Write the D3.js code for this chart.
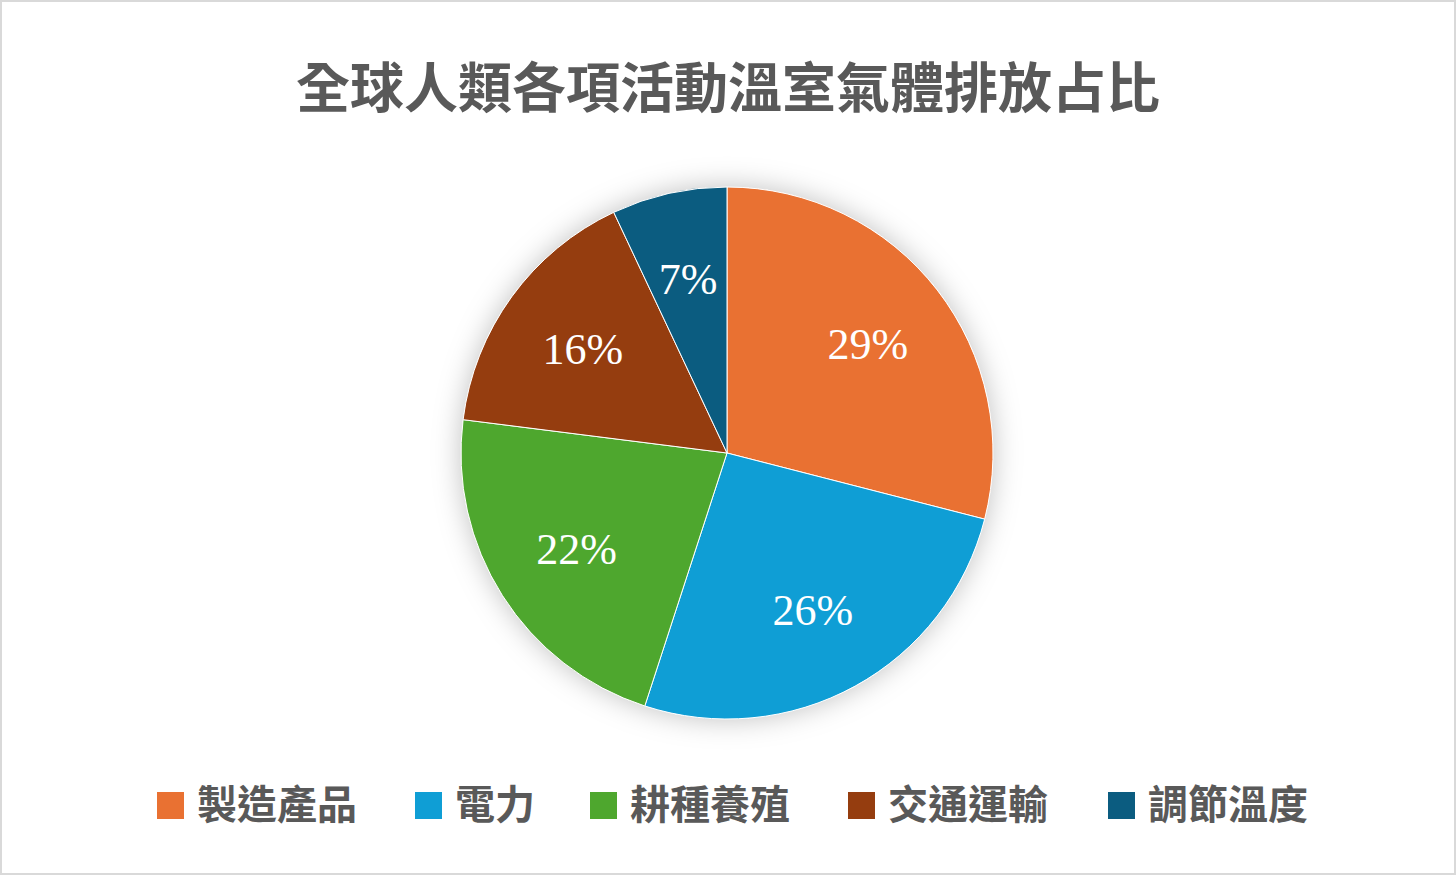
<!DOCTYPE html><html><head><meta charset="utf-8"><script src="https://cdn.jsdelivr.net/npm/d3@7"></script>
<style>body{margin:0;background:#fff}</style></head><body><svg id="c" width="1456" height="875"></svg>
<script>
const categories=["製造產品","電力","耕種養殖","交通運輸","調節溫度"];
const values=[29,26,22,16,7];
const colors=["#E97132","#0F9ED5","#4EA72E","#953D0F","#0B5C80"];
const title="全球人類各項活動溫室氣體排放占比";
const svg=d3.select("#c");
svg.append("rect").attr("x",1).attr("y",1).attr("width",1454).attr("height",873).attr("fill","#fff").attr("stroke","#d9d9d9").attr("stroke-width",2);
const defs=svg.append("defs");
const f=defs.append("filter").attr("id","sh").attr("x","-30%").attr("y","-30%").attr("width","160%").attr("height","160%");
f.append("feDropShadow").attr("dx",0).attr("dy",0).attr("stdDeviation",14).attr("flood-color","#000").attr("flood-opacity",0.25);
svg.append("text").attr("x",728).attr("y",108).attr("text-anchor","middle").attr("font-family","Noto Sans CJK TC").attr("font-weight",700).attr("font-size",54).attr("fill","#595959").text(title);
const cx=727,cy=453,r=266;
const pie=d3.pie().sort(null).value(d=>d)(values);
const arc=d3.arc().innerRadius(0).outerRadius(r);
const lab=d3.arc().innerRadius(r*0.67).outerRadius(r*0.67);
const g=svg.append("g").attr("transform",`translate(${cx},${cy})`);
g.append("circle").attr("r",r).attr("fill","#fff").attr("filter","url(#sh)");
g.selectAll("path").data(pie).enter().append("path").attr("d",arc).attr("fill",(d,i)=>colors[i]).attr("stroke","#fff").attr("stroke-width",1);
g.selectAll("text.l").data(pie).enter().append("text").attr("transform",d=>`translate(${lab.centroid(d)})`).attr("text-anchor","middle").attr("dy","0.35em")
 .attr("font-family","Liberation Serif, DejaVu Serif").attr("font-size",44).attr("fill","#fff").text(d=>d.data+"%");
const lx=[157,415,590,848,1108];
const lg=svg.selectAll("g.lg").data(categories).enter().append("g").attr("transform",(d,i)=>`translate(${lx[i]},805)`);
lg.append("rect").attr("x",0).attr("y",-13).attr("width",27).attr("height",27).attr("fill",(d,i)=>colors[i]);
lg.append("text").attr("x",40).attr("dy","0.36em").attr("font-family","Noto Sans CJK TC").attr("font-weight",700).attr("font-size",40).attr("fill","#595959").text(d=>d);
</script></body></html>
